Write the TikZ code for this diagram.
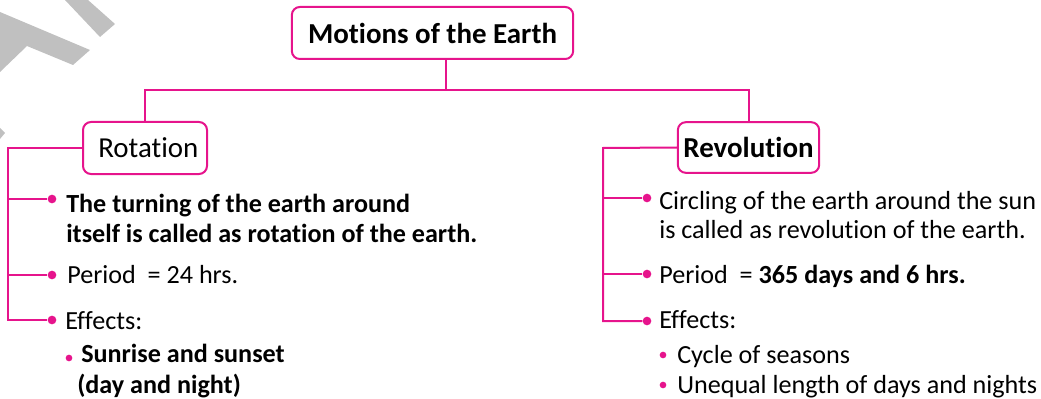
\documentclass[tikz,border=0pt]{standalone}
\usepackage{fontspec}
\setmainfont{Carlito}[Ligatures={NoCommon}]
\usepackage{tikz}
\definecolor{linkpink}{RGB}{230,20,140}
\definecolor{markgray}{RGB}{192,192,192}
\tikzset{
    headbox/.style={
        rectangle,
        rounded corners=6pt,
        draw=linkpink, % 边框颜色
        line width=1.5pt, % 边框加粗
        fill=white,
        inner sep=0,
        font=\fontsize{21.7}{26}\selectfont
    },
    bigdot/.style={
        circle,
        fill=linkpink,
        minimum size=6.5pt,
        inner sep=0
    },
    smalldot/.style={
        circle,
        fill=linkpink,
        minimum size=5pt,
        inner sep=0
    },
    itemtext/.style={
        anchor=base west,
        inner sep=0,
        font=\fontsize{19.6}{24}\selectfont
    }
}
\begin{document}
\begin{tikzpicture}[
                x=0.75pt, y=-0.75pt,
                link/.style={
                    draw=linkpink,
                    line width=1.5pt
                }
            ]
            \useasboundingbox (0,0) rectangle (1041,399);
            % 水印
            \fill[markgray] (65,0) -- (88,0) -- (115,24) -- (100,37) -- cycle;
            \fill[markgray] (0,12) -- (90,50) -- (73,65) -- (27,46) -- (0,72) -- cycle;
            \fill[markgray] (0,128) -- (5,133) -- (0,139) -- cycle;
            % 标题
            \node[headbox, minimum width=211pt, minimum height=39pt] (earth) at (432.5,33) {\textbf{Motions of the Earth}};
            \node[headbox, minimum width=93pt, minimum height=39pt] (rot) at (145,148) {\hspace{5pt}Rotation};
            \node[headbox, minimum width=106pt, minimum height=38pt] (rev) at (748.5,147.5) {\textbf{Revolution}};
            \coordinate (split) at (446,90);
            \draw[link] (earth.south -| split) -- (split);
            \draw[link] (rot) |- (split) -| (rev);
            % 自转
            \node[bigdot] (rd1) at (52,199) {};
            \node[bigdot] (rd2) at (52,275) {};
            \node[bigdot] (rd3) at (52,320) {};
            \coordinate (lsp) at (8,148);
            \draw[link] (rot.west) -- (lsp) |- (rd3);
            \draw[link] (lsp |- rd1) -- (rd1);
            \draw[link] (lsp |- rd2) -- (rd2);
            \node[itemtext] (rt1) at (66,212) {\textbf{The turning of the earth around}};
            \node[itemtext] (rt1b) at (66,242) {\textbf{itself is called as rotation of the earth.}};
            \node[itemtext] (rt2) at (67,283) {Period\ \ = 24 hrs.};
            \node[itemtext] (rt3) at (65,329) {Effects:};
            \node[smalldot] (rs1) at (69,358) {};
            \node[itemtext] (rs1t) at (81,362) {\textbf{Sunrise and sunset}};
            \node[itemtext] (rs1b) at (77,393) {\textbf{(day and night)}};
            % 公转
            \node[bigdot] (vd1) at (647,198) {};
            \node[bigdot] (vd2) at (647,274) {};
            \node[bigdot] (vd3) at (647,321) {};
            \coordinate (rsp) at (603,148);
            \draw[link] (rev.west) -- (rsp) |- (vd3);
            \draw[link] (rsp |- vd1) -- (vd1);
            \draw[link] (rsp |- vd2) -- (vd2);
            \node[itemtext] (vt1) at (659,209) {Circling of the earth around the sun};
            \node[itemtext] (vt1b) at (659,238) {is called as revolution of the earth.};
            \node[itemtext] (vt2) at (659,283) {Period\ \ = \textbf{365 days and 6 hrs.}};
            \node[itemtext] (vt3) at (659,328) {Effects:};
            \node[smalldot] (vs1) at (663,355) {};
            \node[itemtext] (vs1t) at (677,363) {Cycle of seasons};
            \node[smalldot] (vs2) at (663,385) {};
            \node[itemtext] (vs2t) at (677,393) {Unequal length of days and nights};
\end{tikzpicture}
\end{document}
